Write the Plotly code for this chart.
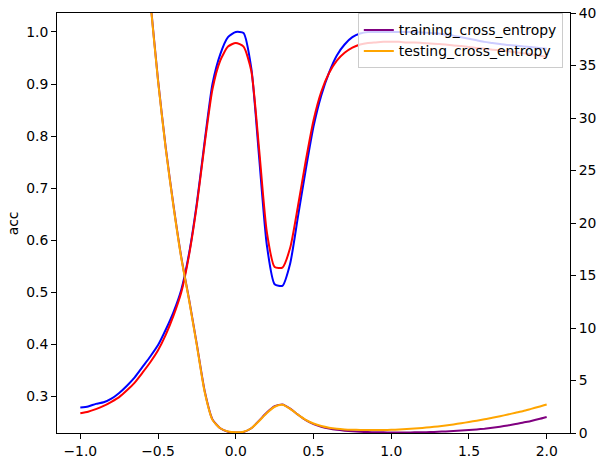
import numpy as np
import plotly.graph_objects as go

# x grid (interpolation coefficient)
x_vals = np.round(np.linspace(-1.0, 2.0, 61), 2)

training_acc = [
    0.278, 0.280, 0.285, 0.288, 0.295, 0.306, 0.320, 0.336, 0.356, 0.376,
    0.398, 0.428, 0.462, 0.505, 0.575, 0.672, 0.790, 0.900, 0.957, 0.990,
    1.000, 0.998, 0.930, 0.760, 0.590, 0.515, 0.512, 0.555, 0.645, 0.735,
    0.818, 0.878, 0.922, 0.955, 0.976, 0.990, 0.997, 1.000, 1.000, 1.000,
    1.000, 1.000, 1.000, 1.000, 0.999, 0.998, 0.997, 0.995, 0.993, 0.990,
    0.987, 0.984, 0.981, 0.979, 0.977, 0.975, 0.974, 0.972, 0.971, 0.969,
    0.968,
]

testing_acc = [
    0.267, 0.270, 0.275, 0.281, 0.289, 0.298, 0.311, 0.326, 0.345, 0.365,
    0.388, 0.418, 0.455, 0.500, 0.572, 0.668, 0.785, 0.890, 0.945, 0.972,
    0.979, 0.972, 0.925, 0.775, 0.615, 0.548, 0.547, 0.585, 0.665, 0.752,
    0.830, 0.885, 0.921, 0.945, 0.960, 0.970, 0.976, 0.979, 0.980, 0.981,
    0.981, 0.981, 0.980, 0.980, 0.979, 0.978, 0.977, 0.976, 0.974, 0.973,
    0.971, 0.969, 0.968, 0.966, 0.965, 0.963, 0.961, 0.959, 0.957, 0.955,
    0.952,
]

training_cross_entropy = [
    130.0, 118.0, 107.0, 96.0, 86.0, 76.0, 67.0, 58.0, 49.6, 41.3,
    33.6, 27.1, 21.6, 16.7, 12.7, 8.4, 4.0, 1.3, 0.45, 0.12,
    0.05, 0.10, 0.45, 1.18, 1.95, 2.55, 2.72, 2.32, 1.75, 1.22,
    0.85, 0.60, 0.42, 0.30, 0.22, 0.16, 0.12, 0.09, 0.07, 0.06,
    0.05, 0.05, 0.05, 0.06, 0.07, 0.09, 0.12, 0.15, 0.19, 0.23,
    0.28, 0.34, 0.41, 0.50, 0.60, 0.72, 0.85, 1.00, 1.15, 1.33,
    1.53,
]

testing_cross_entropy = [
    130.0, 118.0, 107.0, 96.0, 86.0, 76.0, 67.0, 58.0, 49.5, 41.2,
    33.5, 27.0, 21.5, 16.6, 12.6, 8.3, 3.9, 1.25, 0.45, 0.15,
    0.07, 0.12, 0.45, 1.15, 1.90, 2.50, 2.68, 2.30, 1.75, 1.25,
    0.90, 0.66, 0.50, 0.40, 0.34, 0.31, 0.29, 0.28, 0.28, 0.29,
    0.30, 0.33, 0.37, 0.42, 0.48, 0.55, 0.63, 0.72, 0.82, 0.93,
    1.05, 1.17, 1.30, 1.45, 1.60, 1.76, 1.93, 2.10, 2.30, 2.50,
    2.72,
]

x_ticks = [-1.0, -0.5, 0.0, 0.5, 1.0, 1.5, 2.0]
acc_ticks = [0.3, 0.4, 0.5, 0.6, 0.7, 0.8, 0.9, 1.0]
ce_ticks = [0, 5, 10, 15, 20, 25, 30, 35, 40]


def fmt(v, d=1):
    s = f"{v:.{d}f}"
    return s.replace("-", "\u2212")


FONT = "DejaVu Sans"
FS = 13.9

# the page body adds an 8px offset; the figure is sized to fill the rest
W, H = 599, 448
L, R, T, B = 49, 37, 5, 23

fig = go.Figure()
fig.add_trace(go.Scatter(x=x_vals, y=training_acc, mode="lines", name="training_acc",
                         line=dict(color="blue", width=2, shape="spline", smoothing=0.6),
                         showlegend=False, yaxis="y"))
fig.add_trace(go.Scatter(x=x_vals, y=testing_acc, mode="lines", name="testing_acc",
                         line=dict(color="red", width=2, shape="spline", smoothing=0.6),
                         showlegend=False, yaxis="y"))
fig.add_trace(go.Scatter(x=x_vals, y=training_cross_entropy, mode="lines",
                         name="training_cross_entropy",
                         line=dict(color="purple", width=2, shape="spline", smoothing=0.6),
                         yaxis="y2"))
fig.add_trace(go.Scatter(x=x_vals, y=testing_cross_entropy, mode="lines",
                         name="testing_cross_entropy",
                         line=dict(color="orange", width=2, shape="spline", smoothing=0.6),
                         yaxis="y2"))

axis_common = dict(showline=True, linecolor="black", linewidth=1, ticks="outside",
                   ticklen=5, tickwidth=1, tickcolor="black", showgrid=False,
                   zeroline=False, ticklabeloverflow="allow",
                   tickfont=dict(family=FONT, size=FS, color="black"))

pw = W - L - R
fig.update_layout(
    width=W, height=H,
    margin=dict(l=L, r=R, t=T, b=B, autoexpand=False),
    paper_bgcolor="white", plot_bgcolor="white",
    font=dict(family=FONT, size=FS, color="black"),
    xaxis=dict(range=[-1.15, 2.15], tickvals=x_ticks, ticktext=[fmt(v) for v in x_ticks],
               mirror=True, **axis_common),
    yaxis=dict(range=[0.229, 1.0365], tickvals=acc_ticks, ticktext=[fmt(v) for v in acc_ticks],
               **axis_common),
    yaxis2=dict(range=[0, 40], overlaying="y", side="right", tickvals=ce_ticks,
                ticktext=[str(v) for v in ce_ticks], **axis_common),
    legend=dict(x=0.986, y=0.999, xanchor="right", yanchor="top",
                bgcolor="rgba(255,255,255,0.8)", bordercolor="#cccccc", borderwidth=1,
                font=dict(family=FONT, size=FS, color="black"), itemwidth=30,
                tracegroupgap=0),
    annotations=[
        dict(text="acc", xref="paper", yref="paper", x=(5.3 - L) / pw, y=0.5,
             xanchor="center", yanchor="middle", textangle=-90, showarrow=False,
             font=dict(family=FONT, size=FS, color="black")),
        dict(text="cross_entropy", xref="paper", yref="paper", x=(597 - L) / pw, y=0.5,
             xanchor="center", yanchor="middle", textangle=-90, showarrow=False,
             font=dict(family=FONT, size=FS, color="black")),
    ],
)

fig.write_html("out.html")
